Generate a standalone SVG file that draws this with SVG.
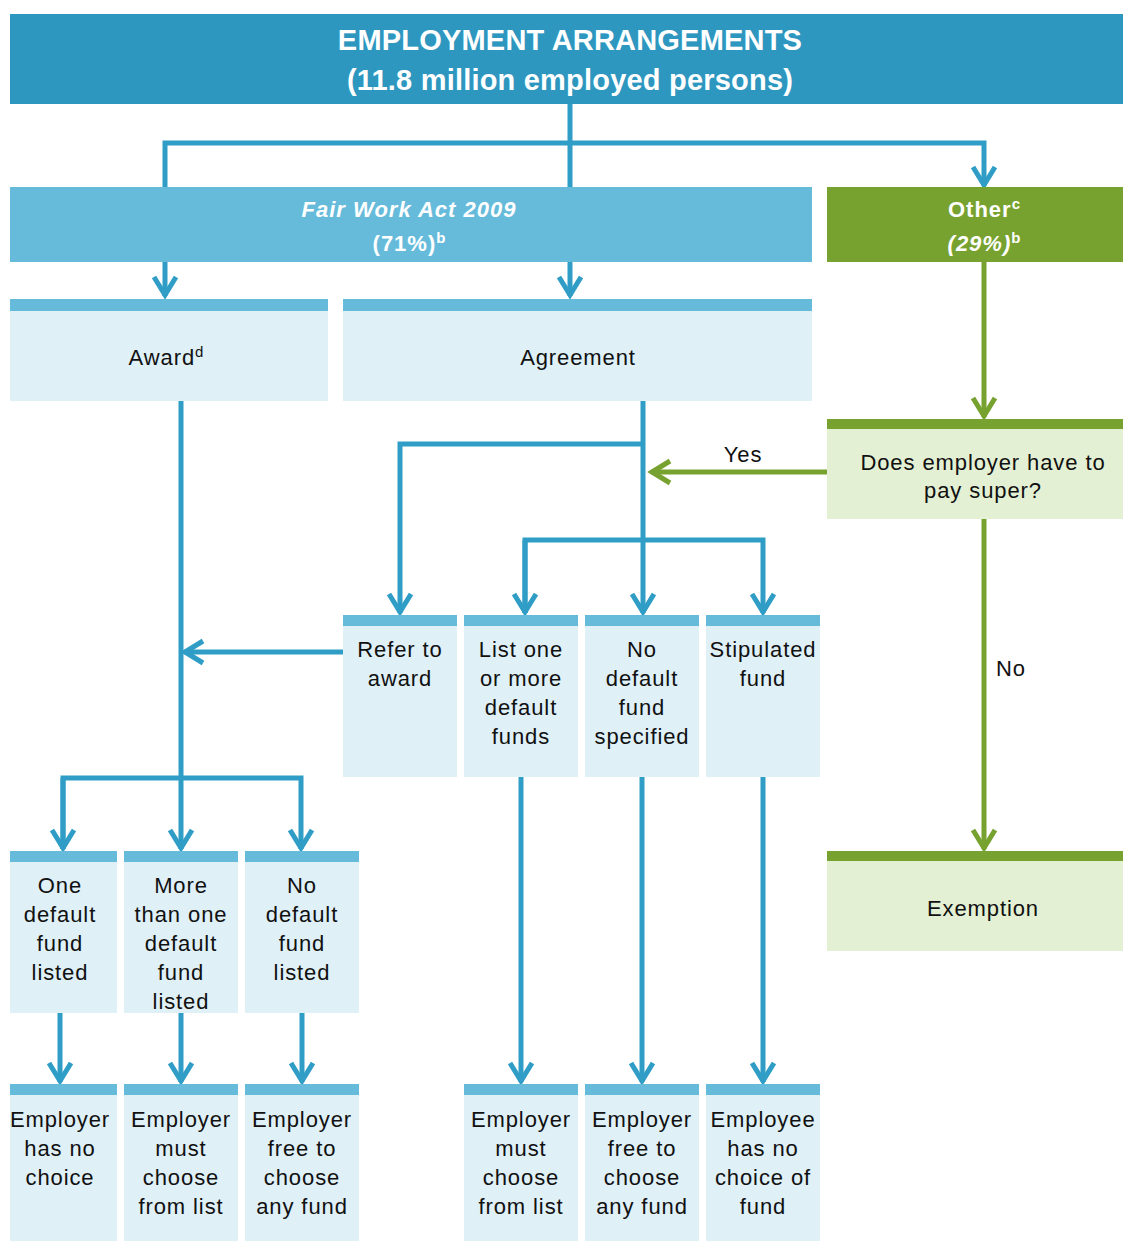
<svg xmlns="http://www.w3.org/2000/svg" width="1123" height="1241" viewBox="0 0 1123 1241">
  <defs>
    <style>
      text { font-family: "Liberation Sans", Arial, sans-serif; }
      .hdr { fill: #2E97C0; }
      .fw { fill: #66BBDB; }
      .oth { fill: #78A22F; }
      .strip { fill: #66BBDB; }
      .body { fill: #DFF0F7; }
      .gstrip { fill: #78A22F; }
      .gbody { fill: #E4F0D3; }
      .t { font-size: 22px; fill: #111; text-anchor: middle; letter-spacing: 0.9px; }
      .w { font-size: 22px; fill: #fff; font-weight: bold; text-anchor: middle; letter-spacing: 1px; }
      .big { font-size: 29px; fill: #fff; font-weight: bold; text-anchor: middle; letter-spacing: 0.2px; }
      .sup { font-size: 15px; letter-spacing: 0; }
      .bl { fill: none; stroke: #2F9DC6; stroke-width: 5; }
      .gl { fill: none; stroke: #78A22F; stroke-width: 5; }
    </style>
    <marker id="ab" markerUnits="userSpaceOnUse" markerWidth="30" markerHeight="30" viewBox="-24 -15 30 30" refX="0" refY="0" orient="auto">
      <path d="M-19,-11 L-1,0 L-19,11" fill="none" stroke="#2F9DC6" stroke-width="5"/>
    </marker>
    <marker id="ag" markerUnits="userSpaceOnUse" markerWidth="30" markerHeight="30" viewBox="-24 -15 30 30" refX="0" refY="0" orient="auto">
      <path d="M-19,-11 L-1,0 L-19,11" fill="none" stroke="#78A22F" stroke-width="5"/>
    </marker>
  </defs>

  <rect width="1123" height="1241" fill="#fff"/>

  <!-- connectors -->
  <g id="connectors">
    <path class="bl" d="M570,104 V187"/>
    <path class="bl" d="M165,187 V143 H984 V186" marker-end="url(#ab)"/>
    <path class="bl" d="M165,262 V296" marker-end="url(#ab)"/>
    <path class="bl" d="M570,262 V296" marker-end="url(#ab)"/>
    <!-- award branch -->
    <path class="bl" d="M181,401 V849" marker-end="url(#ab)"/>
    <path class="bl" d="M63,849 V778 H301 V849" marker-end="url(#ab)"/>
    <path class="bl" d="M63,778 V849" marker-end="url(#ab)"/>
    <path class="bl" d="M343,652 H184" marker-end="url(#ab)"/>
    <!-- agreement branch -->
    <path class="bl" d="M643,401 V613" marker-end="url(#ab)"/>
    <path class="bl" d="M643,444 H400 V613" marker-end="url(#ab)"/>
    <path class="bl" d="M525,613 V540 H763 V613" marker-end="url(#ab)"/>
    <path class="bl" d="M525,540 V613" marker-end="url(#ab)"/>
    <!-- second level -->
    <path class="bl" d="M60,1013 V1082" marker-end="url(#ab)"/>
    <path class="bl" d="M181,1013 V1082" marker-end="url(#ab)"/>
    <path class="bl" d="M302,1013 V1082" marker-end="url(#ab)"/>
    <path class="bl" d="M521,777 V1082" marker-end="url(#ab)"/>
    <path class="bl" d="M642,777 V1082" marker-end="url(#ab)"/>
    <path class="bl" d="M763,777 V1082" marker-end="url(#ab)"/>
    <!-- other branch -->
    <path class="gl" d="M984,262 V417" marker-end="url(#ag)"/>
    <path class="gl" d="M827,472 H651" marker-end="url(#ag)"/>
    <path class="gl" d="M984,519 V849" marker-end="url(#ag)"/>
    <text class="t" x="743" y="462">Yes</text>
    <text class="t" x="1011" y="676">No</text>
  </g>

  <g id="employment">
    <rect class="hdr" x="10" y="14" width="1113" height="90"/>
    <text class="big" x="570" y="50">EMPLOYMENT ARRANGEMENTS</text>
    <text class="big" x="570" y="90">(11.8 million employed persons)</text>
  </g>

  <g id="fair-work">
    <rect class="fw" x="10" y="187" width="802" height="75"/>
    <text class="w" x="409" y="217" font-style="italic">Fair Work Act 2009</text>
    <text class="w" x="409" y="251">(71%)<tspan class="sup" dy="-8">b</tspan></text>
  </g>

  <g id="other">
    <rect class="oth" x="827" y="187" width="296" height="75"/>
    <text class="w" x="984" y="217">Other<tspan class="sup" dy="-8">c</tspan></text>
    <text class="w" x="984" y="251"><tspan font-style="italic">(29%)</tspan><tspan class="sup" dy="-8">b</tspan></text>
  </g>

  <g id="award">
    <rect class="body" x="10" y="299" width="318" height="102"/>
    <rect class="strip" x="10" y="299" width="318" height="12"/>
    <text class="t" x="166" y="365">Award<tspan class="sup" dy="-8">d</tspan></text>
  </g>

  <g id="agreement">
    <rect class="body" x="343" y="299" width="469" height="102"/>
    <rect class="strip" x="343" y="299" width="469" height="12"/>
    <text class="t" x="578" y="365">Agreement</text>
  </g>

  <g id="pay-super">
    <rect class="gbody" x="827" y="419" width="296" height="100"/>
    <rect class="gstrip" x="827" y="419" width="296" height="10"/>
    <text class="t" x="983" y="470">Does employer have to</text>
    <text class="t" x="983" y="498">pay super?</text>
  </g>

  <g id="exemption">
    <rect class="gbody" x="827" y="851" width="296" height="100"/>
    <rect class="gstrip" x="827" y="851" width="296" height="10"/>
    <text class="t" x="983" y="916">Exemption</text>
  </g>

  <!-- agreement outcomes -->
  <g id="refer-to-award">
    <rect class="body" x="343" y="615" width="114" height="162"/>
    <rect class="strip" x="343" y="615" width="114" height="11"/>
    <text class="t" x="400" y="657">Refer to</text>
    <text class="t" x="400" y="686">award</text>
  </g>
  <g id="list-default-funds">
    <rect class="body" x="464" y="615" width="114" height="162"/>
    <rect class="strip" x="464" y="615" width="114" height="11"/>
    <text class="t" x="521" y="657">List one</text>
    <text class="t" x="521" y="686">or more</text>
    <text class="t" x="521" y="715">default</text>
    <text class="t" x="521" y="744">funds</text>
  </g>
  <g id="no-default-specified">
    <rect class="body" x="585" y="615" width="114" height="162"/>
    <rect class="strip" x="585" y="615" width="114" height="11"/>
    <text class="t" x="642" y="657">No</text>
    <text class="t" x="642" y="686">default</text>
    <text class="t" x="642" y="715">fund</text>
    <text class="t" x="642" y="744">specified</text>
  </g>
  <g id="stipulated-fund">
    <rect class="body" x="706" y="615" width="114" height="162"/>
    <rect class="strip" x="706" y="615" width="114" height="11"/>
    <text class="t" x="763" y="657">Stipulated</text>
    <text class="t" x="763" y="686">fund</text>
  </g>

  <!-- award outcomes -->
  <g id="one-default">
    <rect class="body" x="10" y="851" width="107" height="162"/>
    <rect class="strip" x="10" y="851" width="107" height="11"/>
    <text class="t" x="60" y="893">One</text>
    <text class="t" x="60" y="922">default</text>
    <text class="t" x="60" y="951">fund</text>
    <text class="t" x="60" y="980">listed</text>
  </g>
  <g id="more-than-one">
    <rect class="body" x="124" y="851" width="114" height="162"/>
    <rect class="strip" x="124" y="851" width="114" height="11"/>
    <text class="t" x="181" y="893">More</text>
    <text class="t" x="181" y="922">than one</text>
    <text class="t" x="181" y="951">default</text>
    <text class="t" x="181" y="980">fund</text>
    <text class="t" x="181" y="1009">listed</text>
  </g>
  <g id="no-default-listed">
    <rect class="body" x="245" y="851" width="114" height="162"/>
    <rect class="strip" x="245" y="851" width="114" height="11"/>
    <text class="t" x="302" y="893">No</text>
    <text class="t" x="302" y="922">default</text>
    <text class="t" x="302" y="951">fund</text>
    <text class="t" x="302" y="980">listed</text>
  </g>

  <!-- final results -->
  <g id="employer-no-choice">
    <rect class="body" x="10" y="1084" width="107" height="157"/>
    <rect class="strip" x="10" y="1084" width="107" height="11"/>
    <text class="t" x="60" y="1127">Employer</text>
    <text class="t" x="60" y="1156">has no</text>
    <text class="t" x="60" y="1185">choice</text>
  </g>
  <g id="employer-from-list-a">
    <rect class="body" x="124" y="1084" width="114" height="157"/>
    <rect class="strip" x="124" y="1084" width="114" height="11"/>
    <text class="t" x="181" y="1127">Employer</text>
    <text class="t" x="181" y="1156">must</text>
    <text class="t" x="181" y="1185">choose</text>
    <text class="t" x="181" y="1214">from list</text>
  </g>
  <g id="employer-any-fund-a">
    <rect class="body" x="245" y="1084" width="114" height="157"/>
    <rect class="strip" x="245" y="1084" width="114" height="11"/>
    <text class="t" x="302" y="1127">Employer</text>
    <text class="t" x="302" y="1156">free to</text>
    <text class="t" x="302" y="1185">choose</text>
    <text class="t" x="302" y="1214">any fund</text>
  </g>
  <g id="employer-from-list-b">
    <rect class="body" x="464" y="1084" width="114" height="157"/>
    <rect class="strip" x="464" y="1084" width="114" height="11"/>
    <text class="t" x="521" y="1127">Employer</text>
    <text class="t" x="521" y="1156">must</text>
    <text class="t" x="521" y="1185">choose</text>
    <text class="t" x="521" y="1214">from list</text>
  </g>
  <g id="employer-any-fund-b">
    <rect class="body" x="585" y="1084" width="114" height="157"/>
    <rect class="strip" x="585" y="1084" width="114" height="11"/>
    <text class="t" x="642" y="1127">Employer</text>
    <text class="t" x="642" y="1156">free to</text>
    <text class="t" x="642" y="1185">choose</text>
    <text class="t" x="642" y="1214">any fund</text>
  </g>
  <g id="employee-no-choice">
    <rect class="body" x="706" y="1084" width="114" height="157"/>
    <rect class="strip" x="706" y="1084" width="114" height="11"/>
    <text class="t" x="763" y="1127">Employee</text>
    <text class="t" x="763" y="1156">has no</text>
    <text class="t" x="763" y="1185">choice of</text>
    <text class="t" x="763" y="1214">fund</text>
  </g>
</svg>
